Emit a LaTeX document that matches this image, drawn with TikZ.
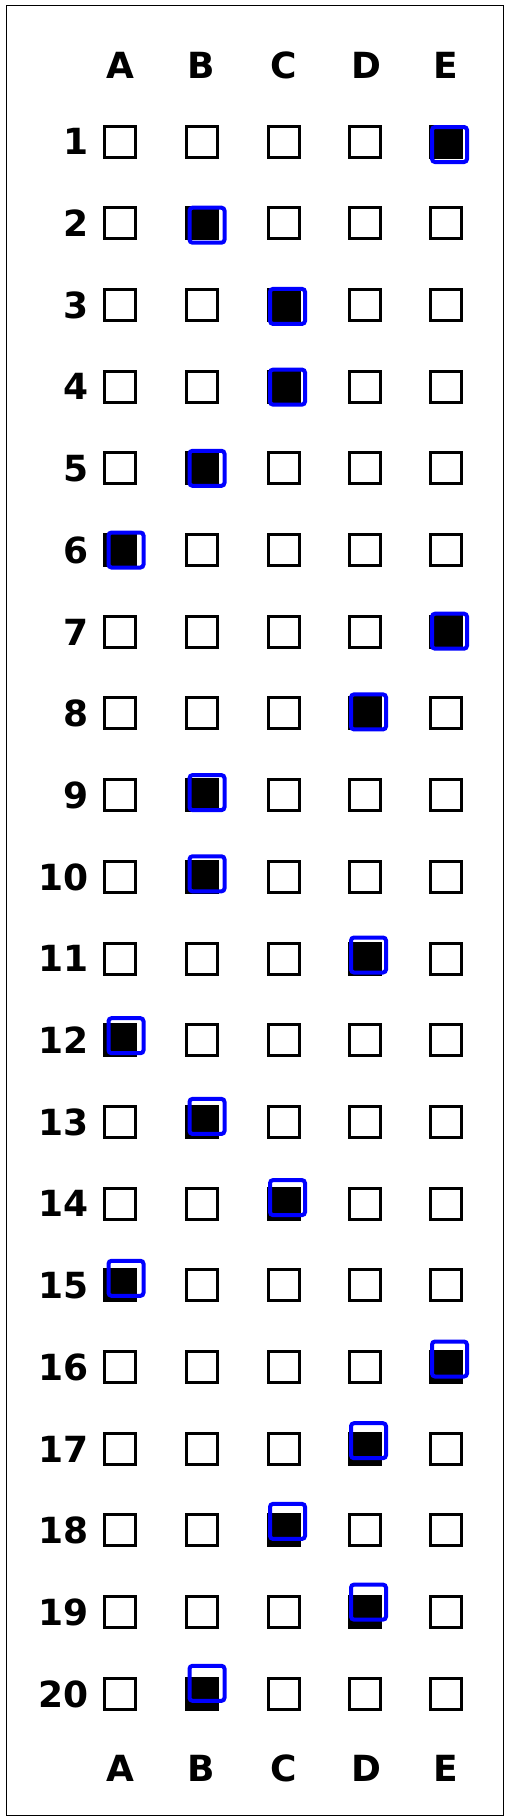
\documentclass[tikz,border=0pt]{standalone}
\usepackage{fontspec}
\setmainfont{DejaVu Sans}
\begin{document}
\begin{tikzpicture}[x=1pt,y=-1pt,
  optbox/.style={draw=black, line width=3pt, minimum size=31pt, inner sep=0pt, fill=white},
  filledbox/.style={optbox, fill=black},
  markbox/.style={draw=blue, line width=4pt, minimum size=35pt, inner sep=0pt, rounded corners=3pt},
  numlabel/.style={anchor=base east, inner sep=0pt, font=\fontsize{36}{40}\selectfont\bfseries},
  collabel/.style={anchor=base, inner sep=0pt, font=\fontsize{36}{40}\selectfont\bfseries},
  framebox/.style={draw=black, line width=1pt, minimum width=497pt, minimum height=1810pt, inner sep=0pt}]
\useasboundingbox (0,0) rectangle (511,1820);
\node[framebox] (frame) at (254.5,910) {};
\foreach \L/\cx in {A/120, B/201.5, C/283.5, D/366, E/446} {
  \node[collabel] (top-\L) at (\cx,78.3) {\L};
  \node[collabel] (bot-\L) at (\cx,1781.7) {\L};
}
\foreach \r/\ans/\dy in {1/5/3, 2/2/2, 3/3/1.5, 4/3/0.5, 5/2/0, 6/1/0, 7/5/-0.5, 8/4/-1.5, 9/2/-2.5, 10/2/-3,
                         11/4/-3.5, 12/1/-4.5, 13/2/-5.5, 14/3/-6, 15/1/-7, 16/5/-8, 17/4/-8, 18/3/-9, 19/4/-10, 20/2/-10.5} {
  \pgfmathsetmacro\ry{141.5+(\r-1)*81.7}
  \node[numlabel] (n\r) at (89,{\ry+13.3}) {\r};
  \foreach \c/\cx/\dx in {1/120/6, 2/201.5/5.5, 3/283.5/4, 4/364.5/4, 5/446/3.5} {
    \ifnum\c=\ans\relax
      \node[filledbox] (b\r-\c) at (\cx,\ry) {};
      \node[markbox] (m\r) at ({\cx+\dx},{\ry+(\dy)}) {};
    \else
      \node[optbox] (b\r-\c) at (\cx,\ry) {};
    \fi
  }
}
\end{tikzpicture}
\end{document}
